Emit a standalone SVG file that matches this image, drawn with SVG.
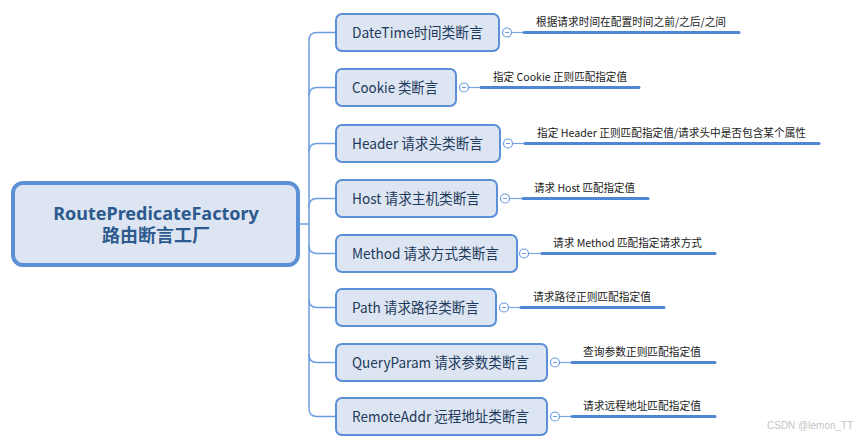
<svg xmlns="http://www.w3.org/2000/svg" width="858" height="441" viewBox="0 0 858 441">
<style>
.node rect{fill:#dce5f1;stroke:#5b8fd6;stroke-width:2}
.root rect{fill:#dce5f1;stroke:#5b8fd6;stroke-width:4}
.ct{font-family:"Noto Sans CJK SC","Noto Sans",sans-serif;font-size:14.5px;fill:#1e3a5c}
.rt{font-family:"Noto Sans","Noto Sans CJK SC",sans-serif;font-size:18px;font-weight:bold;fill:#2d5a8e;text-anchor:middle}
.lt{font-family:"Noto Sans CJK SC","Noto Sans",sans-serif;font-size:11px;fill:#1a1a1a}
.trunk{fill:none;stroke:#6b9be0;stroke-width:1.5}
.thin{stroke:#7aa6e4;stroke-width:1.2}
.thick{stroke:#4f87d6;stroke-width:3;stroke-linecap:round}
.tog circle{fill:#fff;stroke:#6b9be0;stroke-width:1.2}
.tog line{stroke:#6b9be0;stroke-width:1}
.wm{font-family:"Liberation Sans",sans-serif;font-size:10px;fill:#c4c4c4}
</style>
<g id="connectors">
<path class="trunk" d="M299,224 L309,224"/>
<path class="trunk" d="M309,40.5 L309,408.5"/>
<path class="trunk" d="M309,40.5 Q309,32.5 317,32.5 L336,32.5"/>
<path class="trunk" d="M309,95.5 Q309,87.5 317,87.5 L336,87.5"/>
<path class="trunk" d="M309,151.5 Q309,143.5 317,143.5 L336,143.5"/>
<path class="trunk" d="M309,206.5 Q309,198.5 317,198.5 L336,198.5"/>
<path class="trunk" d="M309,245.5 Q309,253.5 317,253.5 L336,253.5"/>
<path class="trunk" d="M309,299.5 Q309,307.5 317,307.5 L336,307.5"/>
<path class="trunk" d="M309,354.5 Q309,362.5 317,362.5 L336,362.5"/>
<path class="trunk" d="M309,408.5 Q309,416.5 317,416.5 L336,416.5"/>
<line class="thin" x1="511.5" y1="32.5" x2="523" y2="32.5"/><line class="thick" x1="524" y1="32.5" x2="739" y2="32.5"/>
<line class="thin" x1="468.5" y1="87.5" x2="480" y2="87.5"/><line class="thick" x1="481" y1="87.5" x2="639" y2="87.5"/>
<line class="thin" x1="512.5" y1="143.5" x2="524" y2="143.5"/><line class="thick" x1="525" y1="143.5" x2="819" y2="143.5"/>
<line class="thin" x1="509.5" y1="198.5" x2="522" y2="198.5"/><line class="thick" x1="523" y1="198.5" x2="648" y2="198.5"/>
<line class="thin" x1="528.5" y1="253.5" x2="541" y2="253.5"/><line class="thick" x1="542" y1="253.5" x2="715" y2="253.5"/>
<line class="thin" x1="508.5" y1="307.5" x2="520" y2="307.5"/><line class="thick" x1="521" y1="307.5" x2="664" y2="307.5"/>
<line class="thin" x1="559.5" y1="362.5" x2="571" y2="362.5"/><line class="thick" x1="572" y1="362.5" x2="715" y2="362.5"/>
<line class="thin" x1="559.5" y1="416.5" x2="571" y2="416.5"/><line class="thick" x1="572" y1="416.5" x2="715" y2="416.5"/>
</g>
<g id="root" class="root">
<rect x="13" y="183" width="285" height="82" rx="10"/>
<text class="rt" x="156" y="220">RoutePredicateFactory</text>
<text class="rt" x="156" y="242">路由断言工厂</text>
</g>
<g id="n-datetime" class="node">
<rect x="336" y="14" width="163" height="37" rx="6"/>
<text class="ct" x="352" y="38" textLength="131" lengthAdjust="spacingAndGlyphs">DateTime时间类断言</text>
<g class="tog"><circle cx="507" cy="32.5" r="4.5"/><line x1="505" y1="32.5" x2="509" y2="32.5"/></g>
<text class="lt" x="536" y="26" textLength="190" lengthAdjust="spacingAndGlyphs">根据请求时间在配置时间之前/之后/之间</text>
</g>
<g id="n-cookie" class="node">
<rect x="336" y="69" width="120" height="37" rx="6"/>
<text class="ct" x="352" y="93" textLength="86" lengthAdjust="spacingAndGlyphs">Cookie 类断言</text>
<g class="tog"><circle cx="464" cy="87.5" r="4.5"/><line x1="462" y1="87.5" x2="466" y2="87.5"/></g>
<text class="lt" x="493" y="81" textLength="134" lengthAdjust="spacingAndGlyphs">指定 Cookie 正则匹配指定值</text>
</g>
<g id="n-header" class="node">
<rect x="336" y="125" width="164" height="37" rx="6"/>
<text class="ct" x="352" y="149" textLength="131" lengthAdjust="spacingAndGlyphs">Header 请求头类断言</text>
<g class="tog"><circle cx="508" cy="143.5" r="4.5"/><line x1="506" y1="143.5" x2="510" y2="143.5"/></g>
<text class="lt" x="537" y="137" textLength="269" lengthAdjust="spacingAndGlyphs">指定 Header 正则匹配指定值/请求头中是否包含某个属性</text>
</g>
<g id="n-host" class="node">
<rect x="336" y="180" width="161" height="37" rx="6"/>
<text class="ct" x="352" y="204" textLength="128" lengthAdjust="spacingAndGlyphs">Host 请求主机类断言</text>
<g class="tog"><circle cx="505" cy="198.5" r="4.5"/><line x1="503" y1="198.5" x2="507" y2="198.5"/></g>
<text class="lt" x="534" y="192" textLength="101" lengthAdjust="spacingAndGlyphs">请求 Host 匹配指定值</text>
</g>
<g id="n-method" class="node">
<rect x="336" y="235" width="181" height="37" rx="6"/>
<text class="ct" x="352" y="259" textLength="147" lengthAdjust="spacingAndGlyphs">Method 请求方式类断言</text>
<g class="tog"><circle cx="524" cy="253.5" r="4.5"/><line x1="522" y1="253.5" x2="526" y2="253.5"/></g>
<text class="lt" x="553" y="247" textLength="149" lengthAdjust="spacingAndGlyphs">请求 Method 匹配指定请求方式</text>
</g>
<g id="n-path" class="node">
<rect x="336" y="289" width="160" height="37" rx="6"/>
<text class="ct" x="352" y="313" textLength="127" lengthAdjust="spacingAndGlyphs">Path 请求路径类断言</text>
<g class="tog"><circle cx="504" cy="307.5" r="4.5"/><line x1="502" y1="307.5" x2="506" y2="307.5"/></g>
<text class="lt" x="533" y="301" textLength="118" lengthAdjust="spacingAndGlyphs">请求路径正则匹配指定值</text>
</g>
<g id="n-queryparam" class="node">
<rect x="336" y="344" width="211" height="37" rx="6"/>
<text class="ct" x="352" y="368" textLength="177" lengthAdjust="spacingAndGlyphs">QueryParam 请求参数类断言</text>
<g class="tog"><circle cx="555" cy="362.5" r="4.5"/><line x1="553" y1="362.5" x2="557" y2="362.5"/></g>
<text class="lt" x="583" y="356" textLength="118" lengthAdjust="spacingAndGlyphs">查询参数正则匹配指定值</text>
</g>
<g id="n-remoteaddr" class="node">
<rect x="336" y="398" width="211" height="37" rx="6"/>
<text class="ct" x="352" y="422" textLength="177" lengthAdjust="spacingAndGlyphs">RemoteAddr 远程地址类断言</text>
<g class="tog"><circle cx="555" cy="416.5" r="4.5"/><line x1="553" y1="416.5" x2="557" y2="416.5"/></g>
<text class="lt" x="583" y="410" textLength="118" lengthAdjust="spacingAndGlyphs">请求远程地址匹配指定值</text>
</g>
<text class="wm" x="767" y="429">CSDN @lemon_TT</text>
</svg>
